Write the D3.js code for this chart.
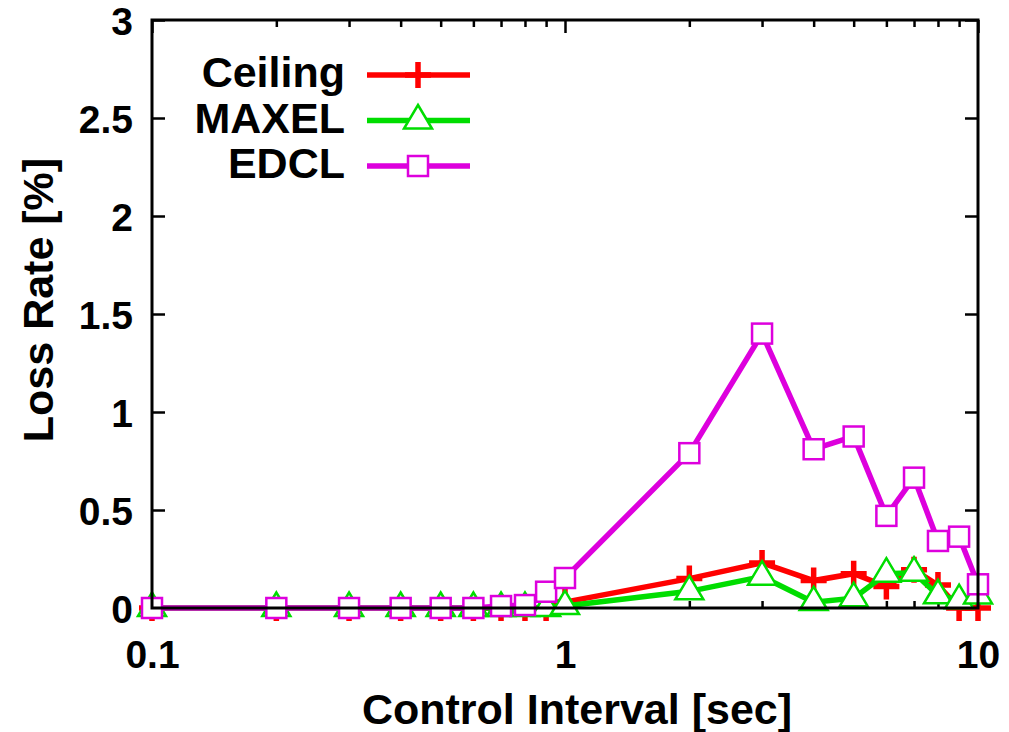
<!DOCTYPE html>
<html>
<head>
<meta charset="utf-8">
<script src="https://cdn.jsdelivr.net/npm/d3@7"></script>
<style>
  html, body { margin: 0; padding: 0; background: #fff; }
  svg { display: block; }
  text { font-family: "Liberation Sans", Arial, Helvetica, sans-serif; font-weight: bold; fill: #000; }
</style>
</head>
<body>
<svg id="chart" width="1009" height="732"></svg>
<script>
// ---- data ----
const intervals = [0.1, 0.2, 0.3, 0.4, 0.5, 0.6, 0.7, 0.8, 0.9, 1, 2, 3, 4, 5, 6, 7, 8, 9, 10];
const ceiling = [0, 0, 0, 0, 0, 0, 0, 0, 0, 0.03, 0.15, 0.23, 0.14, 0.175, 0.11, 0.195, 0.117, 0, 0];
const maxel   = [0, 0, 0, 0, 0, 0, 0, 0, 0, 0.01, 0.085, 0.16, 0.03, 0.05, 0.175, 0.18, 0.065, 0.04, 0.064];
const edcl    = [0, 0, 0, 0, 0, 0, 0.01, 0.015, 0.083, 0.153, 0.79, 1.40, 0.81, 0.875, 0.47, 0.665, 0.342, 0.364, 0.121];
const seriesNames = ["Ceiling", "MAXEL", "EDCL"];
const xMajorTicks = [0.1, 1, 10];
const xMinorTicks = [0.2, 0.3, 0.4, 0.5, 0.6, 0.7, 0.8, 0.9, 2, 3, 4, 5, 6, 7, 8, 9];
const yTicks = [0, 0.5, 1, 1.5, 2, 2.5, 3];
const xTickLabels = ["0.1", "1", "10"];
const yTickLabels = ["0", "0.5", "1", "1.5", "2", "2.5", "3"];
const xTitle = "Control Interval [sec]";
const yTitle = "Loss Rate [%]";

// ---- layout ----
const L = 152, R = 978, T = 20, B = 608;
const svg = d3.select("#chart");
const x = d3.scaleLog().domain([0.1, 10]).range([L, R]);
const y = d3.scaleLinear().domain([0, 3]).range([B, T]);

const colors = ["#ff0000", "#00dd00", "#dd00dd"];
const shapes = ["plus", "triangle", "square"];
const allSeries = [ceiling, maxel, edcl];

// ticks (inward, mirrored)
function tickAxis(axis, transform, vals, size) {
  svg.append("g").attr("transform", transform)
    .call(axis.tickValues(vals).tickSize(size).tickFormat(""))
    .call(g => g.select(".domain").remove())
    .call(g => g.selectAll("line").attr("stroke", "#000").attr("stroke-width", 2.5));
}
tickAxis(d3.axisBottom(x), `translate(0,${B})`, xMajorTicks, -13);
tickAxis(d3.axisBottom(x), `translate(0,${B})`, xMinorTicks, -7);
tickAxis(d3.axisTop(x), `translate(0,${T})`, xMajorTicks, -13);
tickAxis(d3.axisTop(x), `translate(0,${T})`, xMinorTicks, -7);
tickAxis(d3.axisLeft(y), `translate(${L},0)`, yTicks, -13);
tickAxis(d3.axisRight(y), `translate(${R},0)`, yTicks, -13);

const tickFont = g => g.selectAll("text")
  .style("font-size", "39px").style("font-family", "'Liberation Sans', Arial, sans-serif")
  .style("font-weight", "bold").attr("fill", "#000");

// tick labels
svg.append("g").attr("transform", `translate(0,${B})`)
  .call(d3.axisBottom(x).tickValues(xMajorTicks).tickSize(0).tickPadding(0)
        .tickFormat((d, i) => xTickLabels[i]))
  .call(g => g.select(".domain").remove())
  .call(g => g.selectAll("text").attr("dy", null).attr("y", 60))
  .call(tickFont);

svg.append("g").attr("transform", `translate(${L},0)`)
  .call(d3.axisLeft(y).tickValues(yTicks).tickSize(0).tickPadding(0)
        .tickFormat((d, i) => yTickLabels[i]))
  .call(g => g.select(".domain").remove())
  .call(g => g.selectAll("text").attr("x", -19).attr("dy", "0.36em"))
  .call(tickFont);

// axis titles
svg.append("text").attr("x", 577).attr("y", 724).attr("text-anchor", "middle")
  .style("font-size", "43px").text(xTitle);
svg.append("text").attr("transform", `translate(53,300) rotate(-90)`).attr("text-anchor", "middle")
  .style("font-size", "43px").text(yTitle);

// markers
function drawMarker(g, shape, color, cx, cy) {
  if (shape === "plus") {
    g.append("path").attr("d", `M${cx-13},${cy}H${cx+13}M${cx},${cy-13}V${cy+13}`)
      .attr("stroke", color).attr("stroke-width", 5.5).attr("fill", "none");
  } else if (shape === "triangle") {
    g.append("path").attr("d", `M${cx},${cy-15.5}L${cx+14},${cy+8}L${cx-14},${cy+8}Z`)
      .attr("stroke", color).attr("stroke-width", 2.5).attr("fill", "#fff");
  } else {
    g.append("rect").attr("x", cx-10).attr("y", cy-10).attr("width", 20).attr("height", 20)
      .attr("stroke", color).attr("stroke-width", 2.5).attr("fill", "#fff");
  }
}

const line = d3.line().x(d => x(d[0])).y(d => y(d[1]));
allSeries.forEach((vals, si) => {
  const pts = intervals.map((t, i) => [t, vals[i]]);
  const g = svg.append("g");
  g.append("path").datum(pts).attr("d", line)
    .attr("fill", "none").attr("stroke", colors[si]).attr("stroke-width", 5.5)
    .attr("stroke-linejoin", "miter");
  pts.forEach(p => drawMarker(g, shapes[si], colors[si], x(p[0]), y(p[1])));
});

// frame
svg.append("rect").attr("x", L).attr("y", T).attr("width", R - L).attr("height", B - T)
  .attr("fill", "none").attr("stroke", "#000").attr("stroke-width", 3);

// legend
seriesNames.forEach((name, i) => {
  const ly = 75 + i * 45.5;
  svg.append("text").attr("x", 345).attr("y", ly - 3).attr("dy", "0.36em")
    .attr("text-anchor", "end").style("font-size", "43px").text(name);
  const g = svg.append("g");
  g.append("line").attr("x1", 367).attr("x2", 470).attr("y1", ly).attr("y2", ly)
    .attr("stroke", colors[i]).attr("stroke-width", 5.5);
  drawMarker(g, shapes[i], colors[i], 418, ly);
});
</script>
</body>
</html>
